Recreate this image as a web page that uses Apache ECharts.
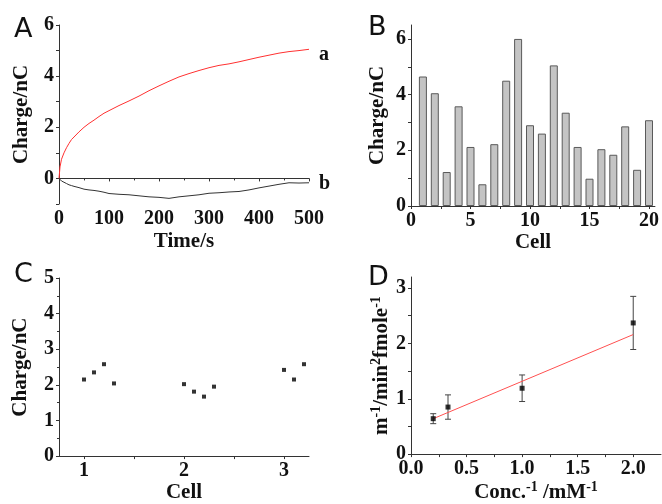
<!DOCTYPE html>
<html>
<head>
<meta charset="utf-8">
<script src="https://cdn.jsdelivr.net/npm/echarts@6/dist/echarts.min.js"></script>
<style>
  html, body { margin: 0; padding: 0; background: #fff; }
  #chart { width: 662px; height: 504px; }
</style>
</head>
<body>
<div id="chart"></div>
<script>
// Panel A: charge vs time
const timeA = [0, 2, 5, 10, 15, 20, 25, 30, 40, 50, 60, 70, 80, 90, 100, 120, 140, 160, 180, 200,
  220, 240, 260, 280, 300, 320, 340, 360, 380, 400, 420, 440, 460, 480, 500];
const chargeA = [0, 0.45, 0.75, 1.0, 1.2, 1.37, 1.52, 1.62, 1.82, 2.0, 2.15, 2.28, 2.42, 2.55, 2.65, 2.85,
  3.03, 3.22, 3.43, 3.62, 3.8, 3.97, 4.1, 4.22, 4.33, 4.42, 4.48, 4.56, 4.65, 4.74, 4.82, 4.9, 4.96, 5.0, 5.05];
const chargeB = [0, -0.05, -0.1, -0.15, -0.2, -0.25, -0.28, -0.31, -0.36, -0.42, -0.45, -0.47, -0.5, -0.54, -0.59, -0.62,
  -0.64, -0.68, -0.72, -0.74, -0.78, -0.72, -0.68, -0.64, -0.58, -0.56, -0.53, -0.51, -0.45, -0.37, -0.3, -0.23, -0.17, -0.18, -0.17];

// Panel B: charge per cell
const cellsB = [1, 2, 3, 4, 5, 6, 7, 8, 9, 10, 11, 12, 13, 14, 15, 16, 17, 18, 19, 20];
const barValues = [4.65, 4.05, 1.22, 3.58, 2.12, 0.78, 2.22, 4.5, 6.0, 2.9, 2.6, 5.05, 3.35, 2.12, 0.98, 2.04, 1.84, 2.86, 1.3, 3.08];

// Panel C: repeated measurements in 3 cells
const cellPosC = [1, 1.1, 1.2, 1.3, 2, 2.1, 2.2, 2.3, 3, 3.1, 3.2];
const chargeC = [2.15, 2.35, 2.58, 2.04, 2.02, 1.81, 1.67, 1.95, 2.42, 2.15, 2.58];

// Panel D: reciprocal plot
const concInv = [0.2, 0.333, 1.0, 2.0];
const rateInv = [0.64, 0.85, 1.19, 2.37];
const rateErr = [0.09, 0.22, 0.24, 0.48];
const fitX = [0.2, 2.0];
const fitY = [0.64, 2.16];

const serif = 'Liberation Serif';
const txt = { fontFamily: serif, fontWeight: 'bold', fontSize: 20, color: '#111' };
const nameTxt = Object.assign({}, txt, { fontSize: 21 });
// superscript: pad below and sit on the line bottom so the glyphs are lifted
const supStyle = { fontFamily: serif, fontWeight: 'bold', fontSize: 14, color: '#111', verticalAlign: 'bottom', padding: [0, 0, 11, 0] };
const axisLine = { show: true, lineStyle: { color: '#333', width: 1 } };
const tick = { show: true, length: 3, inside: false, lineStyle: { color: '#333' } };

function axisName(gap) {
  return { nameLocation: 'middle', nameGap: gap, nameTextStyle: nameTxt };
}

const chart = echarts.init(document.getElementById('chart'));

const option = {
  animation: false,
  title: [
    { text: 'A', left: 9, top: 11 },
    { text: 'B', left: 363, top: 9 },
    { text: 'C', left: 9, top: 256 },
    { text: 'D', left: 363, top: 259 }
  ].map(t => Object.assign(t, { textStyle: { fontFamily: 'DejaVu Sans', fontWeight: 'normal', fontSize: 27, color: '#111' } })),
  grid: [
    { left: 59, top: 25, width: 250, height: 179 },
    { left: 411, top: 25, width: 250, height: 181 },
    { left: 59, top: 278, width: 250, height: 180 },
    { left: 411, top: 277, width: 250, height: 181 }
  ],
  xAxis: [
    Object.assign({
      gridIndex: 0, type: 'value', min: 0, max: 500, interval: 100, name: 'Time/s',
      axisLine, axisTick: tick, splitLine: { show: false },
      minorTick: { show: true, splitNumber: 2, length: 2, lineStyle: { color: '#333' } },
      axisLabel: Object.assign({ margin: 5 }, txt)
    }, axisName(27)),
    Object.assign({
      gridIndex: 1, type: 'value', min: 0, max: 20.5, name: 'Cell',
      axisLine, splitLine: { show: false },
      axisTick: Object.assign({ customValues: [0, 2.5, 5, 7.5, 10, 12.5, 15, 17.5, 20] }, tick),
      axisLabel: Object.assign({ margin: 5, customValues: [0, 5, 10, 15, 20] }, txt)
    }, axisName(25)),
    Object.assign({
      gridIndex: 2, type: 'value', min: 0.75, max: 3.25, name: 'Cell',
      axisLine, splitLine: { show: false },
      axisTick: Object.assign({ customValues: [1, 1.5, 2, 2.5, 3] }, tick),
      axisLabel: Object.assign({ margin: 5, customValues: [1, 2, 3] }, txt)
    }, axisName(25)),
    Object.assign({
      gridIndex: 3, type: 'value', min: 0, max: 2.25, name: 'Conc.{s|-1} /mM{s|-1}',
      axisLine, splitLine: { show: false },
      axisTick: Object.assign({ customValues: [0, 0.25, 0.5, 0.75, 1, 1.25, 1.5, 1.75, 2] }, tick),
      axisLabel: Object.assign({ margin: 5, customValues: [0, 0.5, 1, 1.5, 2], formatter: v => v.toFixed(1) }, txt)
    }, {
      nameLocation: 'middle', nameGap: 22,
      nameTextStyle: Object.assign({}, nameTxt, { rich: { s: supStyle } })
    })
  ],
  yAxis: [
    Object.assign({
      gridIndex: 0, type: 'value', min: -1, max: 6, interval: 1, name: 'Charge/nC',
      axisLine, axisTick: tick, splitLine: { show: false },
      axisLabel: Object.assign({ margin: 5, formatter: v => (v >= 0 && v % 2 === 0) ? String(v) : '' }, txt)
    }, axisName(27)),
    Object.assign({
      gridIndex: 1, type: 'value', min: 0, max: 6.5, name: 'Charge/nC',
      axisLine, splitLine: { show: false },
      axisTick: Object.assign({ customValues: [0, 1, 2, 3, 4, 5, 6] }, tick),
      axisLabel: Object.assign({ margin: 5, customValues: [0, 2, 4, 6] }, txt)
    }, axisName(23)),
    Object.assign({
      gridIndex: 2, type: 'value', min: 0, max: 5, interval: 1, name: 'Charge/nC',
      axisLine, axisTick: tick, splitLine: { show: false },
      minorTick: { show: true, splitNumber: 2, length: 2, lineStyle: { color: '#333' } },
      axisLabel: Object.assign({ margin: 5 }, txt)
    }, axisName(28)),
    Object.assign({
      gridIndex: 3, type: 'value', min: 0, max: 3.2, name: 'm{s|-1}/min{s|2}fmole{s|-1}',
      axisLine, splitLine: { show: false },
      axisTick: Object.assign({ customValues: [0, 0.5, 1, 1.5, 2, 2.5, 3] }, tick),
      axisLabel: Object.assign({ margin: 5, customValues: [0, 1, 2, 3] }, txt)
    }, {
      nameLocation: 'middle', nameGap: 9,
      nameTextStyle: Object.assign({}, nameTxt, { rich: { s: supStyle } })
    })
  ],
  series: [
    {
      type: 'line', xAxisIndex: 0, yAxisIndex: 0, showSymbol: false,
      data: timeA.map((t, i) => [t, chargeA[i]]),
      lineStyle: { color: '#ff3030', width: 1 },
      endLabel: { show: true, formatter: 'a', distance: 10, fontFamily: serif, fontWeight: 'bold', fontSize: 20, color: '#111', offset: [0, 6] }
    },
    {
      type: 'line', xAxisIndex: 0, yAxisIndex: 0, showSymbol: false,
      data: timeA.map((t, i) => [t, chargeB[i]]),
      lineStyle: { color: '#333', width: 1 },
      endLabel: { show: true, formatter: 'b', distance: 10, fontFamily: serif, fontWeight: 'bold', fontSize: 20, color: '#111', offset: [0, 1] }
    },
    {
      type: 'bar', xAxisIndex: 1, yAxisIndex: 1, barWidth: 8,
      data: cellsB.map((c, i) => [c, barValues[i]]),
      itemStyle: { color: '#c4c4c4', borderColor: '#5a5a5a', borderWidth: 1 }
    },
    {
      type: 'scatter', xAxisIndex: 2, yAxisIndex: 2, symbol: 'rect', symbolSize: 4,
      data: cellPosC.map((x, i) => [x, chargeC[i]]),
      itemStyle: { color: '#000' }
    },
    {
      type: 'line', xAxisIndex: 3, yAxisIndex: 3, showSymbol: false,
      data: fitX.map((x, i) => [x, fitY[i]]),
      lineStyle: { color: '#ff5050', width: 1 }
    },
    {
      type: 'custom', xAxisIndex: 3, yAxisIndex: 3,
      data: concInv.map((x, i) => [x, rateInv[i] - rateErr[i], rateInv[i] + rateErr[i]]),
      renderItem: (params, api) => {
        const lo = api.coord([api.value(0), api.value(1)]);
        const hi = api.coord([api.value(0), api.value(2)]);
        const w = 3;
        const style = { stroke: '#444', lineWidth: 1 };
        return {
          type: 'group',
          children: [
            { type: 'line', shape: { x1: lo[0], y1: lo[1], x2: hi[0], y2: hi[1] }, style },
            { type: 'line', shape: { x1: lo[0] - w, y1: lo[1], x2: lo[0] + w, y2: lo[1] }, style },
            { type: 'line', shape: { x1: hi[0] - w, y1: hi[1], x2: hi[0] + w, y2: hi[1] }, style }
          ]
        };
      }
    },
    {
      type: 'scatter', xAxisIndex: 3, yAxisIndex: 3, symbol: 'rect', symbolSize: 5,
      data: concInv.map((x, i) => [x, rateInv[i]]),
      itemStyle: { color: '#000' }, z: 5
    }
  ]
};

chart.setOption(option);
</script>
</body>
</html>
